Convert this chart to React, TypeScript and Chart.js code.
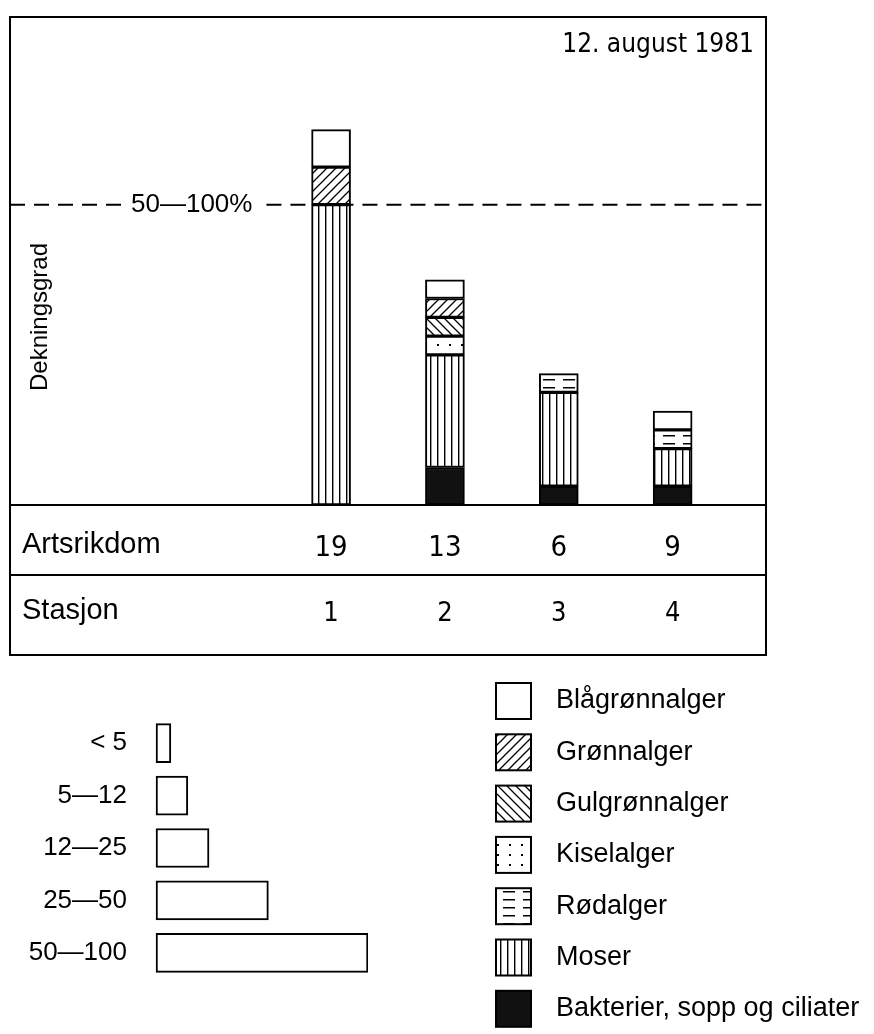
import React, { useEffect, useRef } from 'react';
import { Chart, registerables } from 'chart.js';

Chart.register(...registerables);

// ---------- data ----------
const stations = ['1', '2', '3', '4'];
const artsrikdom = [19, 13, 6, 9];
const blagronnalger = [10, 5, null, 5];
const gronnalger = [10, 5, null, null];
const gulgronnalger = [null, 5, null, null];
const kiselalger = [null, 5, null, null];
const rodalger = [null, null, 5, 5];
const moser = [80, 30, 25, 10];
const bakterier = [null, 10, 5, 5];
const thresholdValue = 80;
const thresholdLabel = '50—100%';
const coverLabels = ['< 5', '5—12', '12—25', '25—50', '50—100'];
const coverValues = [7, 15, 25, 53, 100];
const titleText = '12. august 1981';
const yTitle = 'Dekningsgrad';
const rowLabels = ['Artsrikdom', 'Stasjon'];
const legendNames = [
  'Blågrønnalger',
  'Grønnalger',
  'Gulgrønnalger',
  'Kiselalger',
  'Rødalger',
  'Moser',
  'Bakterier, sopp og ciliater',
];
const legendSeries = [blagronnalger, gronnalger, gulgronnalger, kiselalger, rodalger, moser, bakterier];
// stacking order, bottom to top (indices into legendNames)
const stackOrder = [6, 5, 3, 2, 1, 4, 0];

// ---------- styles ----------
const patternKinds = ['white', 'diagR', 'diagL', 'dots', 'dashes', 'vert', 'black'];
const FONT = "'Liberation Sans', Arial, sans-serif";
const NARROW = "'Liberation Sans Narrow', 'DejaVu Sans Condensed', 'Liberation Sans', sans-serif";

function makePattern(kind: string): any {
  if (kind === 'white') return '#ffffff';
  if (kind === 'black') return '#111111';
  const c = document.createElement('canvas');
  let w = 9, h = 9;
  if (kind === 'dots') { w = 12; h = 10; }
  if (kind === 'dashes') { w = 20; h = 8; }
  if (kind === 'vert') { w = 7; h = 4; }
  c.width = w; c.height = h;
  const g = c.getContext('2d') as CanvasRenderingContext2D;
  g.fillStyle = '#fff';
  g.fillRect(0, 0, w, h);
  g.strokeStyle = '#000';
  g.fillStyle = '#000';
  g.lineWidth = 1.3;
  if (kind === 'diagR') {
    g.beginPath();
    g.moveTo(0, h); g.lineTo(w, 0);
    g.moveTo(-1, 1); g.lineTo(1, -1);
    g.moveTo(w - 1, h + 1); g.lineTo(w + 1, h - 1);
    g.stroke();
  } else if (kind === 'diagL') {
    g.beginPath();
    g.moveTo(0, 0); g.lineTo(w, h);
    g.moveTo(-1, h - 1); g.lineTo(1, h + 1);
    g.moveTo(w - 1, -1); g.lineTo(w + 1, 1);
    g.stroke();
  } else if (kind === 'dots') {
    g.fillRect(5, 4, 2, 2);
  } else if (kind === 'dashes') {
    g.fillRect(3, 3, 12, 1.5);
  } else if (kind === 'vert') {
    g.fillRect(3, 0, 1.4, h);
  }
  return g.createPattern(c, 'repeat');
}

export default function App() {
  const mainRef = useRef<HTMLCanvasElement | null>(null);
  const coverRef = useRef<HTMLCanvasElement | null>(null);

  useEffect(() => {
    const patterns = patternKinds.map(makePattern);

    const datasets = stackOrder.map((i) => ({
      label: legendNames[i],
      data: legendSeries[i].map((v, k) => ({ x: k + 1, y: v })),
      backgroundColor: patterns[i],
      borderColor: '#000',
      borderWidth: 2,
      borderSkipped: false,
      barThickness: 39,
    }));

    const decor = {
      id: 'decor',
      beforeDatasetsDraw(chart: any) {
        const { ctx, chartArea: ca, scales } = chart;
        const yT = scales.y.getPixelForValue(thresholdValue);
        ctx.save();
        ctx.font = `26px ${FONT}`;
        ctx.textAlign = 'left';
        ctx.textBaseline = 'middle';
        ctx.fillStyle = '#000';
        const labelX = 131;
        const tw = ctx.measureText(thresholdLabel).width;
        ctx.fillText(thresholdLabel, labelX, yT);
        ctx.strokeStyle = '#000';
        ctx.lineWidth = 2;
        ctx.setLineDash([15, 9]);
        ctx.beginPath();
        ctx.moveTo(ca.left, yT);
        ctx.lineTo(labelX - 8, yT);
        ctx.moveTo(labelX + tw + 14, yT);
        ctx.lineTo(ca.right, yT);
        ctx.stroke();
        ctx.restore();
      },
      afterDraw(chart: any) {
        const { ctx, chartArea: ca, scales } = chart;
        const row1 = ca.bottom + 70;
        const row2 = ca.bottom + 150;
        ctx.save();
        ctx.strokeStyle = '#000';
        ctx.lineWidth = 2;
        ctx.setLineDash([]);
        ctx.beginPath();
        ctx.rect(ca.left, ca.top, ca.right - ca.left, row2 - ca.top);
        ctx.moveTo(ca.left, ca.bottom); ctx.lineTo(ca.right, ca.bottom);
        ctx.moveTo(ca.left, row1); ctx.lineTo(ca.right, row1);
        ctx.stroke();

        ctx.fillStyle = '#000';
        // title
        ctx.font = `26px ${NARROW}`;
        ctx.textAlign = 'right';
        ctx.textBaseline = 'alphabetic';
        ctx.fillText(titleText, ca.right - 12, 52);

        // y title
        ctx.save();
        ctx.translate(47, 317);
        ctx.rotate(-Math.PI / 2);
        ctx.font = `24px ${FONT}`;
        ctx.textAlign = 'center';
        ctx.fillText(yTitle, 0, 0);
        ctx.restore();

        // table
        ctx.textBaseline = 'middle';
        ctx.textAlign = 'left';
        ctx.font = `29px ${FONT}`;
        ctx.fillText(rowLabels[0], ca.left + 12, (ca.bottom + row1) / 2 + 5);
        ctx.fillText(rowLabels[1], ca.left + 12, (row1 + row2) / 2 - 4);
        ctx.textAlign = 'center';
        stations.forEach((s, k) => {
          const x = scales.x.getPixelForValue(k + 1);
          ctx.font = `29px ${NARROW}`;
          ctx.fillText(String(artsrikdom[k]), x, (ca.bottom + row1) / 2 + 8);
          ctx.font = `27px ${NARROW}`;
          ctx.fillText(s, x, (row1 + row2) / 2 - 1);
        });

        // species legend
        const lx = 496, bw = 35, bh = 36, top = 701, step = 51.3;
        legendNames.forEach((name, i) => {
          const cy = top + i * step;
          ctx.fillStyle = patterns[i];
          ctx.fillRect(lx, cy - bh / 2, bw, bh);
          ctx.lineWidth = 2;
          ctx.strokeRect(lx, cy - bh / 2, bw, bh);
          ctx.fillStyle = '#000';
          ctx.font = `27px ${FONT}`;
          ctx.textAlign = 'left';
          ctx.textBaseline = 'middle';
          ctx.fillText(name, 556, cy);
        });
        ctx.restore();
      },
    };

    const main = new Chart(mainRef.current as HTMLCanvasElement, {
      type: 'bar',
      data: { datasets: datasets as any },
      options: {
        responsive: false,
        animation: false,
        devicePixelRatio: 1,
        layout: { padding: { left: 10, top: 17, right: 108, bottom: 529 } },
        scales: {
          x: { type: 'linear', min: -1.82, max: 4.82, offset: false, stacked: true, display: false },
          y: { min: 0, max: 130, stacked: true, display: false },
        },
        plugins: { legend: { display: false }, tooltip: { enabled: false } },
      },
      plugins: [decor],
    });

    const cover = new Chart(coverRef.current as HTMLCanvasElement, {
      type: 'bar',
      data: {
        labels: coverLabels,
        datasets: [
          {
            data: coverValues,
            backgroundColor: '#ffffff',
            borderColor: '#000',
            borderWidth: 2,
            borderSkipped: false,
            barThickness: 39,
          },
        ],
      },
      options: {
        indexAxis: 'y',
        responsive: false,
        animation: false,
        devicePixelRatio: 1,
        layout: { padding: { left: 0, top: 17, right: 52, bottom: 21 } },
        scales: {
          x: { min: -13.7, max: 100, display: false },
          y: {
            grid: { display: false, drawTicks: false },
            border: { display: false },
            ticks: { color: '#000', font: { family: FONT, size: 26 }, padding: 0 },
            afterFit: (s: any) => { s.width = 127; },
          },
        },
        plugins: { legend: { display: false }, tooltip: { enabled: false } },
      },
    });

    return () => {
      main.destroy();
      cover.destroy();
    };
  }, []);

  return (
    <div style={{ position: 'absolute', left: 0, top: 0, width: 874, height: 1034, background: '#fff' }}>
      <canvas ref={mainRef} width={874} height={1034} style={{ position: 'absolute', left: 0, top: 0, width: 874, height: 1034 }} />
      <canvas ref={coverRef} width={420} height={300} style={{ position: 'absolute', left: 0, top: 700, width: 420, height: 300 }} />
    </div>
  );
}
